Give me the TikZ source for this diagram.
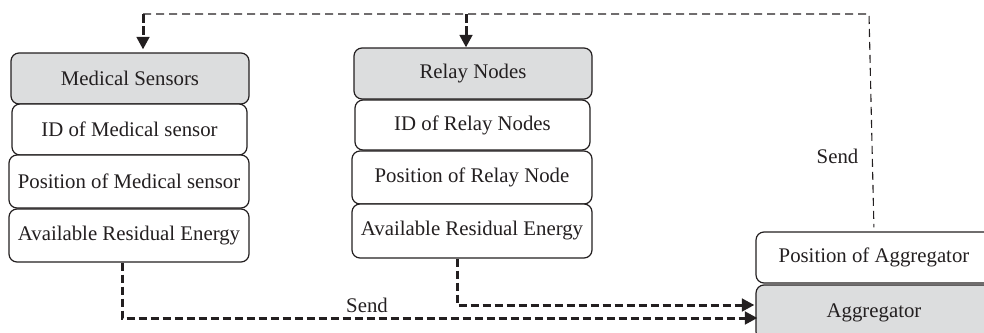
\documentclass[tikz,border=0pt]{standalone}
\usepackage{fontspec}
\setmainfont{Liberation Serif}
\usetikzlibrary{arrows.meta,calc}
\definecolor{ink}{HTML}{231F20}
\definecolor{hdr}{HTML}{DCDDDE}
\tikzset{
  field/.style={draw=ink,line width=1.2pt,rounded corners=8pt,fill=white,text=ink,inner sep=0pt,
    font=\fontsize{20.8}{24}\selectfont,anchor=center},
  head/.style={field,fill=hdr},
  thin link/.style={draw=ink,line width=1.1pt,dash pattern=on 8pt off 5pt},
  thick link/.style={draw=ink,line width=3pt,dash pattern=on 8.5pt off 3.5pt},
  tip/.style={-{Triangle[length=12.5pt,width=12.5pt]}},
  lbl/.style={text=ink,inner sep=0pt,font=\fontsize{20.8}{24}\selectfont}
}
\newcommand{\bx}[7]{\node[#1,minimum width=#5pt-#4pt,minimum height=#7pt-#6pt] (#2) at ({(#4+#5)/2},{(#6+#7)/2}) {#3};}
\begin{document}
\begin{tikzpicture}[x=1pt,y=-1pt]
\useasboundingbox (0,0) rectangle (984,332);
\bx{head}{ms}{Medical Sensors}{11}{249}{53}{104}
\bx{field}{mi}{ID of Medical sensor}{12}{247}{104}{155}
\bx{field}{mp}{Position of Medical sensor}{9}{249}{155}{208}
\bx{field}{ma}{Available Residual Energy}{9}{249}{209}{262}
\bx{head}{rn}{Relay Nodes}{354}{592}{48}{99}
\bx{field}{ri}{ID of Relay Nodes}{355}{590}{100}{150}
\bx{field}{rp}{Position of Relay Node}{352}{592}{151}{204}
\bx{field}{ra}{Available Residual Energy}{352}{592}{204}{258}
\bx{field}{ap}{Position of Aggregator}{756}{992}{232}{283}
\bx{head}{ag}{Aggregator}{756}{992}{285}{340}
\coordinate (c1) at (143,14);
\coordinate (c2) at (466,14);
\coordinate (c3) at (869,14);
\coordinate (c4) at (122,318);
\coordinate (c5) at (457,305);
\draw[thin link,shorten >=4pt] (c1) -- (c3) -- (ap.north) ;
\draw[thick link,tip,shorten >=3pt] (c1) -- (ms.north -| c1);
\draw[thick link,tip] (c2) -- (rn.north -| c2);
\draw[thick link,tip,shorten >=-2pt] (ma.south -| c4) -- (c4) -- (ag.west |- c4);
\draw[thick link,tip,shorten >=1pt] (ra.south -| c5) -- (c5) -- (ag.west |- c5);
\node[lbl] (s1) at (367,305) {Send};
\node[lbl] (s2) at (837.5,156) {Send};
\end{tikzpicture}
\end{document}
